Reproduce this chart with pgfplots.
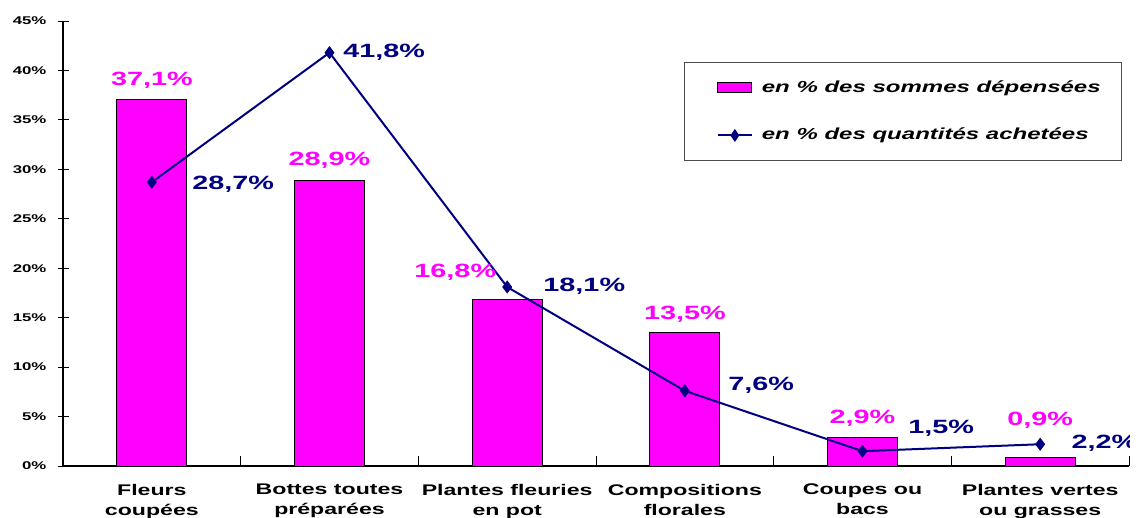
\documentclass[border=0pt]{standalone}
\usepackage{pgfplots}
\pgfplotsset{compat=1.18}
\usepackage{fontspec}
\setmainfont{Liberation Sans}[FakeStretch=1.5]
\definecolor{mag}{HTML}{FF00FF}
\definecolor{nav}{HTML}{000080}
\begin{document}
\begin{tikzpicture}
\begin{axis}[
  scale only axis, width=533pt, height=222.5pt,
  xmin=-0.5, xmax=5.5, ymin=0, ymax=45,
  axis x line*=bottom, axis y line*=left,
  axis line style={line width=0.6pt},
  xtick={0,...,5},
  xticklabels={{Fleurs\\coupées},{Bottes toutes\\préparées},{Plantes fleuries\\en pot},{Compositions\\florales},{Coupes ou\\bacs},{Plantes vertes\\ou grasses}},
  xticklabel style={align=center, font=\bfseries\fontsize{7.7}{10}\selectfont, yshift=-5.5pt},
  minor xtick={-0.5,0.5,...,5.5},
  major x tick style={draw=none},
  minor tick length=5pt,
  ytick={0,5,...,45},
  ytick align=center,
  major tick length=5.5pt,
  yticklabel={\pgfmathprintnumber{\tick}\%},
  yticklabel style={font=\bfseries\fontsize{5.6}{7}\selectfont, xshift=-2pt},
  /pgf/number format/assume math mode=true,
  tick style={black, line width=0.5pt},
  legend style={at={(rel axis cs:0.583,0.908)}, anchor=north west, draw=black!70,
    font=\bfseries\itshape\fontsize{8}{10}\selectfont, inner xsep=8.5pt, inner ysep=7pt,
    row sep=12.5pt},
  legend cell align=left,
]
\addplot[ybar, bar width=35pt, bar shift=0pt, fill=mag, draw=black, line width=0.5pt,
  legend image code/.code={\path[draw=none,fill=none] (0pt,0pt) -- (28pt,0pt); \draw[fill=mag,draw=black,line width=0.5pt] (8pt,-2.5pt) rectangle (25pt,2.5pt);}]
  coordinates {(0,37.1) (1,28.9) (2,16.8) (3,13.5) (4,2.9) (5,0.9)};
\addlegendentry{en \% des sommes dépensées}
\addplot[nav, line width=1pt, mark=diamond*, mark size=2.9pt, mark options={fill=nav, line width=0.5pt},
  legend image code/.code={\path[draw=none,fill=none] (0pt,0pt) -- (28pt,0pt); \draw[nav, line width=1pt] (8pt,0pt) -- (25pt,0pt); \draw[nav, fill=nav, line width=0.5pt] (16.5pt,2.8pt) -- (18.4pt,0pt) -- (16.5pt,-2.8pt) -- (14.6pt,0pt) -- cycle;}]
  coordinates {(0,28.7) (1,41.8) (2,18.1) (3,7.6) (4,1.5) (5,2.2)};
\addlegendentry{en \% des quantités achetées}
% bar labels
\begin{scope}[every node/.style={font=\bfseries\fontsize{9.6}{12}\selectfont, text=mag}]
\node at (axis cs:0,39.0) {37,1\%};
\node at (axis cs:1,30.9) {28,9\%};
\node at (axis cs:1.708,19.6) {16,8\%};
\node at (axis cs:3,15.3) {13,5\%};
\node at (axis cs:4,4.85) {2,9\%};
\node at (axis cs:5,4.65) {0,9\%};
\end{scope}
\begin{scope}[every node/.style={font=\bfseries\fontsize{9.6}{12}\selectfont, text=nav, anchor=west, inner sep=0pt}]
\node at (axis cs:0.226,28.5) {28,7\%};
\node at (axis cs:1.076,41.8) {41,8\%};
\node at (axis cs:2.202,18.2) {18,1\%};
\node at (axis cs:3.243,8.2) {7,6\%};
\node at (axis cs:4.256,3.84) {1,5\%};
\node at (axis cs:5.174,2.33) {2,2\%};
\end{scope}
\end{axis}
\pgfresetboundingbox
\path ([xshift=-31.5pt,yshift=-25.5pt]current axis.south west) rectangle ([xshift=5pt,yshift=10.5pt]current axis.north east);
\end{tikzpicture}
\end{document}
